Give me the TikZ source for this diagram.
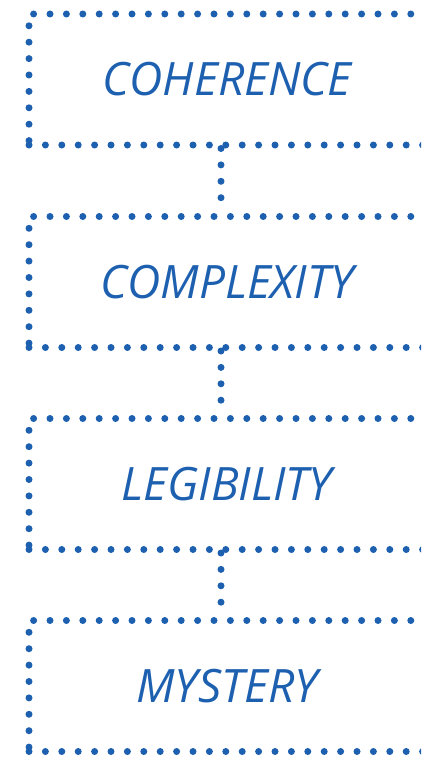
\documentclass[tikz,border=0pt]{standalone}
\usepackage{fontspec}
\setmainfont{Open Sans}
\definecolor{stageblue}{RGB}{30,96,176}
\tikzset{
  dots/.style={stageblue, line width=7pt, line cap=round, dash pattern=on 0pt off 16.4pt},
  stage/.style={draw, dots, minimum width=396pt, minimum height=131pt, inner sep=0pt,
    text=stageblue, font=\fontsize{46}{54}\selectfont\itshape},
}

\begin{document}
\begin{tikzpicture}[x=1pt,y=-1pt]
			\useasboundingbox (0,0) rectangle (421,757);
			\clip (0,0) rectangle (421,757);
			% the four stages, top to bottom
			\node[stage] (coherence) at (227,79.5) {COHERENCE};
			\node[stage] (complexity) at (227,282) {COMPLEXITY};
			\node[stage] (legibility) at (227,484) {LEGIBILITY};
			\node[stage] (mystery) at (227,686) {MYSTERY};
			% dotted links between them
			\draw[dots] ([xshift=-6pt]coherence.south) -- ([xshift=-6pt]complexity.north);
			\draw[dots] ([xshift=-6pt]complexity.south) -- ([xshift=-6pt]legibility.north);
			\draw[dots] ([xshift=-6pt]legibility.south) -- ([xshift=-6pt]mystery.north);
		\end{tikzpicture}
\end{document}
